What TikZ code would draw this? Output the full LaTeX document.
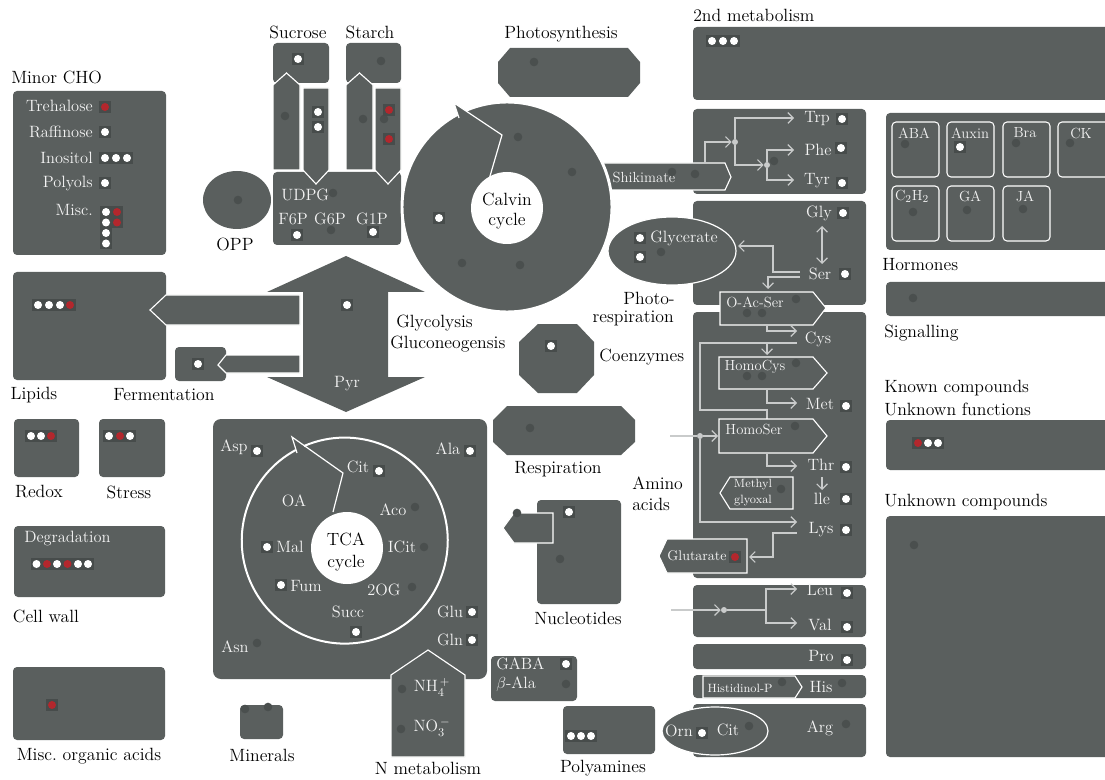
\documentclass[tikz,border=0pt]{standalone}
\usetikzlibrary{arrows.meta}
\definecolor{boxg}{HTML}{5A5F5E}
\definecolor{dotd}{HTML}{4A4F4E}
\definecolor{sqd}{HTML}{474C4B}
\definecolor{redd}{HTML}{B3272D}
\definecolor{conn}{HTML}{C9CBCB}
\definecolor{txtw}{HTML}{F4F4F4}
\newcommand\outfont{\fontsize{13.3}{15}\selectfont}
\newcommand\labfont{\fontsize{12.3}{14}\selectfont}
\newcommand\midfont{\fontsize{11}{12}\selectfont}
\newcommand\smfont{\fontsize{9}{10}\selectfont}
\newcommand\hfont{\fontsize{11}{12}\selectfont}
\tikzset{
  box/.style={fill=boxg, rounded corners=3pt},
  shp/.style={fill=boxg, draw=white, line width=0.85pt, line join=miter},
  lab/.style={font=\outfont, text=black, inner sep=0pt},
  wlab/.style={font=\labfont, text=txtw, inner sep=0pt},
  mlab/.style={font=\midfont, text=txtw, inner sep=0pt},
  slab/.style={font=\smfont, text=txtw, inner sep=0pt},
  hlab/.style={font=\hfont, text=txtw, inner sep=0pt},
  ddot/.style={circle, fill=dotd, minimum size=6.5pt, inner sep=0pt},
  wdot/.style={rectangle, fill=sqd, minimum size=8.5pt, inner sep=0pt, path picture={\fill[white] (path picture bounding box.center) circle (3pt);}},
  rdot/.style={rectangle, fill=sqd, minimum size=8.5pt, inner sep=0pt, path picture={\fill[redd] (path picture bounding box.center) circle (3pt);}},
  con/.style={draw=conn, line width=0.9pt},
  arr/.style={con, -{Straight Barb[length=4pt,width=8pt]}},
  bdot/.style={circle, fill=conn, minimum size=4.5pt, inner sep=0pt},
  hbox/.style={draw=white, line width=0.8pt, rounded corners=3pt},
}
\begin{document}
\begin{tikzpicture}[x=0.75pt,y=-0.75pt]
\useasboundingbox (0,0) rectangle (1105,780);
%% Minor CHO
\node[lab, anchor=west] (tMinor) at (11,77) {Minor CHO};
\fill[box] (13,91) rectangle (166,255);
\node[wlab, anchor=east] (tTre) at (93,106) {Trehalose};
\node[wlab, anchor=east] (tRaf) at (93,132) {Raffinose};
\node[wlab, anchor=east] (tIno) at (93,158) {Inositol};
\node[wlab, anchor=east] (tPol) at (93,183) {Polyols};
\node[wlab, anchor=east] (tMisc) at (93,210) {Misc.};
\node[rdot] (m1) at (105,107) {};
\node[wdot] (m2) at (105,132) {};
\node[wdot] (m3) at (105,158) {};
\node[wdot] (m4) at (116,158) {};
\node[wdot] (m5) at (127,158) {};
\node[wdot] (m6) at (105,183) {};
\node[wdot] (m7) at (106,212) {};
\node[wdot] (m8) at (106,222.5) {};
\node[wdot] (m9) at (106,233) {};
\node[wdot] (m10) at (106,243.5) {};
\node[rdot] (m11) at (117,212) {};
\node[rdot] (m12) at (117,222.5) {};
%% Sucrose / Starch
\node[lab] (tSuc) at (298,32) {Sucrose};
\node[lab] (tSta) at (370,32) {Starch};
\fill[box] (273,43) rectangle (329,83);
\fill[box] (346,43) rectangle (401,83);
\fill[box] (273,172) rectangle (401,245);
\draw[shp] (273,170) -- (273,85) -- (286.5,73) -- (300,85) -- (300,170) -- cycle;
\draw[shp] (303,88) -- (329,88) -- (329,170) -- (316,184) -- (303,170) -- cycle;
\draw[shp] (346,170) -- (346,85) -- (359.5,73) -- (373,85) -- (373,170) -- cycle;
\draw[shp] (375,88) -- (401,88) -- (401,170) -- (388,184) -- (375,170) -- cycle;
\node[wdot] (s1) at (298,59) {};
\node[ddot] (s2) at (381,61) {};
\node[ddot] (s3) at (285,116) {};
\node[wdot] (s4) at (318,112) {};
\node[wdot] (s5) at (318,127) {};
\node[ddot] (s6) at (363,119) {};
\node[ddot] (s7) at (384,119) {};
\node[rdot] (s8) at (389,110) {};
\node[rdot] (s9) at (389,139) {};
\node[ddot] (s10) at (333,193) {};
\node[ddot] (s11) at (331,230) {};
\node[wdot] (s12) at (297,235) {};
\node[wdot] (s13) at (373,232) {};
\node[wlab, anchor=west] (tUDPG) at (281,195) {UDPG};
\node[wlab] (tF6P) at (293,219) {F6P};
\node[wlab] (tG6P) at (330,219) {G6P};
\node[wlab] (tG1P) at (372,219) {G1P};
%% OPP
\fill[boxg] (237,200) ellipse [x radius=34, y radius=29];
\node[ddot] (o1) at (238,200) {};
\node[lab] (tOPP) at (235,244) {OPP};
%% Photosynthesis
\node[lab] (tPhot) at (561,34) {Photosynthesis};
\fill[boxg] (510,48) -- (628,48) -- (640,62) -- (640,83) -- (628,97) -- (510,97) -- (498,83) -- (498,62) -- cycle;
\node[ddot] (p1) at (534,62) {};
%% 2nd metabolism
\node[lab, anchor=west] (t2nd) at (693,15) {2nd metabolism};
\fill[box] (693,27) rectangle (1115,100);
\node[wdot] (n1) at (712,41) {};
\node[wdot] (n2) at (723,41) {};
\node[wdot] (n3) at (734,41) {};
%% amino acid boxes
\fill[box] (693,109) rectangle (866,194);
\fill[box] (693,201) rectangle (866,305);
\fill[box] (693,312) rectangle (866,578);
\fill[box] (693,585) rectangle (866,637);
\fill[box] (693,644) rectangle (866,669);
\fill[box] (693,675) rectangle (866,698);
\fill[box] (693,704) rectangle (866,757);
%% Shikimate + Calvin
\draw[shp] (595,163) -- (725,163) -- (731,177) -- (725,190) -- (595,190) -- cycle;
\draw[fill=boxg, draw=white, line width=2.2pt] (507,207) circle (105);
\fill[boxg] (454,103) -- (502,135) -- (459,118) -- cycle;
\draw[white, line width=0.9pt] (488,183) -- (502,135) -- (454,103) -- (459,118);
\fill[white] (507,208) circle (36);
\node[lab] (tCal1) at (507,199) {Calvin};
\node[lab] (tCal2) at (507,221) {cycle};
\node[wdot] (c1) at (439,218) {};
\node[ddot] (c2) at (518,137) {};
\node[ddot] (c3) at (572,172) {};
\node[ddot] (c4) at (462,263) {};
\node[ddot] (c5) at (520,265) {};
\node[mlab] (tShik) at (644,177) {Shikimate};
\node[ddot] (k1) at (672,172) {};
\node[ddot] (k2) at (695,174) {};
%% Trp/Phe/Tyr
\coordinate (a0) at (705,163);
\node[bdot] (b1) at (735,142) {};
\node[bdot] (b2) at (767,165) {};
\coordinate (aTrp) at (794,118);
\coordinate (aPhe) at (794,150);
\coordinate (aTyr) at (794,180);
\draw[arr] (a0) |- (b1.west);
\draw[arr] (b1) |- (aTrp);
\draw[arr] (b1) |- (b2.west);
\draw[arr] (b2) |- (aPhe);
\draw[arr] (b2) |- (aTyr);
\node[ddot] (k3) at (774,161) {};
\node[wlab] (tTrp) at (817,119) {Trp};
\node[wlab] (tPhe) at (818,150) {Phe};
\node[wlab] (tTyr) at (817,181) {Tyr};
\node[wdot] (t1) at (842,119) {};
\node[wdot] (t2) at (841,148) {};
\node[wdot] (t3) at (842,183) {};
%% Glycerate
\draw[fill=boxg, draw=white, line width=0.9pt] (672,251) ellipse [x radius=64, y radius=34];
\node[wlab] (tGlyc) at (684,238) {Glycerate};
\node[wdot] (g1) at (640,238) {};
\node[wdot] (g2) at (640,257) {};
\node[ddot] (g3) at (661,252) {};
\node[lab, anchor=east] (tPhoto) at (675,298) {Photo-};
\node[lab, anchor=east] (tResp) at (674,318) {respiration};
%% Gly / Ser
\node[wlab] (tGly) at (819,213) {Gly};
\node[wlab] (tSer) at (820,274) {Ser};
\node[wdot] (g4) at (843,213) {};
\node[wdot] (g5) at (845,274) {};
\coordinate (gA) at (822,226);
\coordinate (gB) at (822,264);
\draw[con, {Straight Barb[length=4pt,width=8pt]}-{Straight Barb[length=4pt,width=8pt]}] (gA) -- (gB);
\coordinate (sr1) at (800,272);
\coordinate (sr2) at (773,246);
\coordinate (gl) at (738,246);
\draw[arr] (sr1) -| (sr2) -- (gl);
\coordinate (sr3) at (800,277);
\coordinate (oas) at (768,289);
\draw[arr] (sr3) -| (oas);
%% O-Ac-Ser
\draw[shp] (720,292) -- (813,292) -- (826,308) -- (813,325) -- (720,325) -- cycle;
\node[mlab] (tOAS) at (755,302) {O-Ac-Ser};
\node[ddot] (q1) at (796,299) {};
\node[ddot] (q2) at (747,313) {};
\node[ddot] (q3) at (762,313) {};
%% Cys, HomoCys, Met
\coordinate (y0) at (767,326);
\coordinate (yCys) at (797,331);
\draw[arr] (y0) |- (yCys);
\node[wlab] (tCys) at (818,339) {Cys};
\coordinate (y1) at (797,343);
\coordinate (y2) at (767,419);
\draw[con] (y1) -- (700,343) -- (700,410) -| (y2);
\coordinate (y3) at (767,343);
\coordinate (y4) at (767,355);
\draw[arr] (y3) -- (y4);
\draw[shp] (719,357) -- (813,357) -- (827,373) -- (813,389) -- (719,389) -- cycle;
\node[mlab] (tHCys) at (755,367) {HomoCys};
\node[ddot] (q4) at (796,363) {};
\node[ddot] (q5) at (747,376) {};
\node[ddot] (q6) at (762,376) {};
\coordinate (y5) at (767,390);
\coordinate (yMet) at (797,403);
\draw[arr] (y5) |- (yMet);
\node[wlab] (tMet) at (820,404) {Met};
\node[wdot] (q7) at (846,406) {};
%% HomoSer, Thr, Ile, Lys
\coordinate (e0) at (670,436);
\node[bdot] (b3) at (700,436) {};
\coordinate (e1) at (718,436);
\draw[con] (e0) -- (b3);
\draw[arr] (b3) -- (e1);
\draw[shp] (719,419) -- (813,419) -- (827,436) -- (813,453) -- (719,453) -- cycle;
\node[mlab] (tHSer) at (754,429) {HomoSer};
\node[ddot] (q8) at (795,426) {};
\coordinate (y6) at (767,454);
\coordinate (yThr) at (797,466);
\draw[arr] (y6) |- (yThr);
\node[wlab] (tThr) at (821,465) {Thr};
\node[wdot] (q9) at (846,467) {};
\coordinate (y7) at (822,477);
\coordinate (y8) at (822,490);
\draw[arr] (y7) -- (y8);
\node[wlab] (tIle) at (822,499) {lle};
\node[wdot] (q10) at (846,499) {};
\draw[shp] (730,477) -- (793,477) -- (793,509) -- (730,509) -- (720,493) -- cycle;
\node[slab] (tMeth1) at (753,485) {Methyl};
\node[slab] (tMeth2) at (753,501) {glyoxal};
\node[ddot] (q11) at (781,489) {};
\coordinate (yLys) at (797,522);
\draw[arr] (b3) |- (yLys);
\node[wlab] (tLys) at (821,530) {Lys};
\node[wdot] (q12) at (846,530) {};
\coordinate (y9) at (797,533);
\coordinate (y10) at (749,557);
\draw[arr] (y9) -- (773,533) |- (y10);
\draw[shp] (667,539) -- (747,539) -- (747,573) -- (667,573) -- (659,556) -- cycle;
\node[mlab, font=\fontsize{10.5}{12}\selectfont] (tGlut) at (697,556) {Glutarate};
\node[rdot] (q13) at (735,557) {};
\node[lab, anchor=west] (tAm1) at (632,483) {Amino};
\node[lab, anchor=west] (tAm2) at (632,504) {acids};
%% Leu / Val
\coordinate (v0) at (671,610);
\node[bdot] (b4) at (724,610) {};
\coordinate (v1) at (766,610);
\coordinate (vLeu) at (797,589);
\coordinate (vVal) at (797,623);
\draw[arr] (v0) -- (b4.west);
\draw[con] (b4) -- (v1);
\draw[arr] (v1) |- (vLeu);
\draw[arr] (v1) |- (vVal);
\node[wlab] (tLeu) at (820,590) {Leu};
\node[wlab] (tVal) at (820,625) {Val};
\node[wdot] (r1) at (847,593) {};
\node[wdot] (r2) at (847,627) {};
%% Pro, His, Arg
\node[wlab] (tPro) at (821,656) {Pro};
\node[wdot] (r3) at (847,660) {};
\draw[shp] (703,676) -- (795,676) -- (802,687) -- (795,698) -- (703,698) -- cycle;
\node[slab] (tHisP) at (740,688) {Histidinol-P};
\node[ddot] (r4) at (782,682) {};
\node[wlab] (tHis) at (821,687) {His};
\node[ddot] (r5) at (842,683) {};
\draw[fill=boxg, draw=white, line width=0.9pt] (715,731) ellipse [x radius=53, y radius=24];
\node[wlab] (tOrn) at (679,731) {Orn};
\node[wdot] (r6) at (702,733) {};
\node[wlab] (tCit2) at (728,730) {Cit};
\node[ddot] (r7) at (749,726) {};
\node[wlab] (tArg) at (820,728) {Arg};
\node[ddot] (r8) at (846,724) {};
%% Polyamines
\fill[box] (563,706) rectangle (655,754);
\node[wdot] (pa1) at (571,736) {};
\node[wdot] (pa2) at (581,736) {};
\node[wdot] (pa3) at (591,736) {};
\node[lab] (tPoly) at (603,768) {Polyamines};
%% Nucleotides
\fill[box] (537,500) rectangle (621,604);
\draw[shp] (503,528) -- (514,513) -- (553,513) -- (553,543) -- (514,543) -- cycle;
\node[ddot] (nu1) at (517,513) {};
\node[wdot] (nu2) at (569,512) {};
\node[ddot] (nu3) at (560,559) {};
\node[lab] (tNuc) at (578,618) {Nucleotides};
%% Respiration
\fill[boxg] (507,406) -- (621,406) -- (635,420) -- (635,442) -- (621,455) -- (507,455) -- (493,442) -- (493,420) -- cycle;
\node[ddot] (re1) at (530,428) {};
\node[lab] (tRes) at (558,469) {Respiration};
%% Coenzymes
\fill[boxg] (538,324) -- (577,324) -- (594,342) -- (594,375) -- (577,393) -- (538,393) -- (519,375) -- (519,342) -- cycle;
\node[wdot] (co1) at (551,346) {};
\node[lab, anchor=west] (tCoe) at (599,357) {Coenzymes};
%% Glycolysis arrow
\fill[boxg] (346,256) -- (425,292) -- (388,292) -- (388,377) -- (425,377) -- (346,412) -- (267,377) -- (303,377) -- (303,292) -- (267,292) -- cycle;
\node[wdot] (gy1) at (347,305) {};
\node[wlab] (tPyr) at (347,384) {Pyr};
\node[lab, anchor=west] (tGlyco) at (396,323) {Glycolysis};
\node[lab, anchor=west] (tGluco) at (390,344) {Gluconeogensis};
%% Lipids, Fermentation
\fill[box] (13,272) rectangle (166,380);
\draw[shp] (150,310) -- (166,295) -- (300,295) -- (300,325) -- (166,325) -- cycle;
\node[wdot] (li1) at (38,305) {};
\node[wdot] (li2) at (49,305) {};
\node[wdot] (li3) at (60,305) {};
\node[rdot] (li4) at (70,305) {};
\node[lab] (tLip) at (34,395) {Lipids};
\fill[box] (175,347) rectangle (226,381);
\draw[shp] (218,365) -- (226,355) -- (300,355) -- (300,373) -- (226,373) -- cycle;
\node[wdot] (fe1) at (198,364) {};
\node[lab] (tFer) at (164,395) {Fermentation};
%% Redox, Stress
\fill[box] (14,419) rectangle (79,477);
\node[wdot] (rx1) at (31,436) {};
\node[wdot] (rx2) at (41,436) {};
\node[rdot] (rx3) at (51,436) {};
\node[lab] (tRed) at (39,492) {Redox};
\fill[box] (99,419) rectangle (165,477);
\node[wdot] (st1) at (109,436) {};
\node[rdot] (st2) at (120,436) {};
\node[wdot] (st3) at (130,436) {};
\node[lab] (tStr) at (129,492) {Stress};
%% TCA
\fill[box, rounded corners=6pt] (213,419) rectangle (487,679);
\draw[white, line width=1.5pt] (304,446) arc[start angle=246.7, end angle=601.7, radius=103];
\fill[white] (347,548) circle (36);
\draw[white, line width=0.9pt] (333,512) -- (343,473) -- (292,437) -- (297,453);
\node[lab] (tTCA1) at (346,539) {TCA};
\node[lab] (tTCA2) at (346,563) {cycle};
\node[wlab] (tAsp) at (234,447) {Asp};
\node[wdot] (tc1) at (257,451) {};
\node[wlab] (tAla) at (448,449) {Ala};
\node[wdot] (tc2) at (470,451) {};
\node[wlab] (tCit) at (358,467) {Cit};
\node[wdot] (tc3) at (379,471) {};
\node[wlab] (tOA) at (294,501) {OA};
\node[wlab] (tAco) at (393,510) {Aco};
\node[ddot] (tc4) at (415,507) {};
\node[wlab] (tMal) at (290,547) {Mal};
\node[wdot] (tc5) at (267,547) {};
\node[wlab] (tICit) at (402,547) {ICit};
\node[ddot] (tc6) at (424,547) {};
\node[wlab] (tFum) at (306,586) {Fum};
\node[wdot] (tc7) at (281,585) {};
\node[wlab] (t2OG) at (384,590) {2OG};
\node[ddot] (tc8) at (412,587) {};
\node[wlab] (tSucc) at (348,612) {Succ};
\node[wdot] (tc9) at (356,632) {};
\node[wlab] (tGlu) at (450,612) {Glu};
\node[wdot] (tc10) at (472,612) {};
\node[wlab] (tGln) at (450,640) {Gln};
\node[wdot] (tc11) at (472,640) {};
\node[wlab] (tAsn) at (235,647) {Asn};
\node[ddot] (tc12) at (257,643) {};
%% N metabolism
\draw[shp] (428,650) -- (465,675) -- (465,757) -- (391,757) -- (391,675) -- cycle;
\node[ddot] (nm1) at (402,689) {};
\node[ddot] (nm2) at (401,729) {};
\node[wlab] (tNH) at (432,687) {NH$_4^{\,+}$};
\node[wlab] (tNO) at (432,727) {NO$_3^{\,-}$};
\node[lab] (tNmet) at (428,768) {N metabolism};
%% GABA
\fill[box] (491,656) rectangle (577,701);
\node[wlab, anchor=west] (tGABA) at (496,664) {GABA};
\node[wdot] (ga1) at (566,664) {};
\node[wlab, anchor=west] (tbAla) at (496,684) {$\beta$-Ala};
\node[ddot] (ga2) at (566,684) {};
%% Minerals
\fill[box] (240,705) rectangle (283,739);
\node[ddot] (mi1) at (245,709) {};
\node[ddot] (mi2) at (268,707) {};
\node[lab] (tMin) at (262,755) {Minerals};
%% Misc organic acids
\fill[box] (13,667) rectangle (165,740);
\node[rdot] (mo1) at (52,705) {};
\node[lab] (tMOA) at (89,756) {Misc.\ organic acids};
%% Cell wall
\fill[box] (14,526) rectangle (165,597);
\node[wlab, anchor=west] (tDeg) at (24,538) {Degradation};
\node[wdot] (cw1) at (36.5,564) {};
\node[rdot] (cw2) at (47,564) {};
\node[wdot] (cw3) at (57,564) {};
\node[rdot] (cw4) at (67.5,564) {};
\node[wdot] (cw5) at (78,564) {};
\node[wdot] (cw6) at (88,564) {};
\node[lab] (tCW) at (46,616) {Cell wall};
%% Hormones
\fill[box] (886,113) rectangle (1115,250);
\draw[hbox] (892,122) rectangle (939,177);
\draw[hbox] (947,122) rectangle (994,177);
\draw[hbox] (1003,122) rectangle (1050,177);
\draw[hbox] (1058,122) rectangle (1112,177);
\draw[hbox] (892,186) rectangle (939,241);
\draw[hbox] (947,186) rectangle (994,241);
\draw[hbox] (1003,186) rectangle (1050,241);
\node[hlab] (tABA) at (914,133) {ABA};
\node[hlab] (tAux) at (970,133) {Auxin};
\node[hlab] (tBra) at (1025,133) {Bra};
\node[hlab] (tCK) at (1081,133) {CK};
\node[hlab] (tC2H2) at (912,196) {C$_2$H$_2$};
\node[hlab] (tGA) at (970,196) {GA};
\node[hlab] (tJA) at (1025,196) {JA};
\node[ddot] (h1) at (905,144) {};
\node[wdot] (h2) at (960,147) {};
\node[ddot] (h3) at (1016,143) {};
\node[ddot] (h4) at (1070,143) {};
\node[ddot] (h5) at (913,212) {};
\node[ddot] (h6) at (967,210) {};
\node[ddot] (h7) at (1023,209) {};
\node[lab, anchor=west] (tHorm) at (882,265) {Hormones};
%% Signalling
\fill[box] (886,282) rectangle (1115,316);
\node[ddot] (sg1) at (913,298) {};
\node[lab, anchor=west] (tSig) at (884,333) {Signalling};
%% Known compounds
\node[lab, anchor=west] (tKn1) at (884,388) {Known compounds};
\node[lab, anchor=west] (tKn2) at (884,409) {Unknown functions};
\fill[box] (886,420) rectangle (1115,470);
\node[rdot] (kc1) at (918,443) {};
\node[wdot] (kc2) at (928,443) {};
\node[wdot] (kc3) at (938,443) {};
%% Unknown compounds
\node[lab, anchor=west] (tUnk) at (884,502) {Unknown compounds};
\fill[box] (886,516) rectangle (1115,757);
\node[ddot] (uc1) at (914,545) {};
\end{tikzpicture}
\end{document}
